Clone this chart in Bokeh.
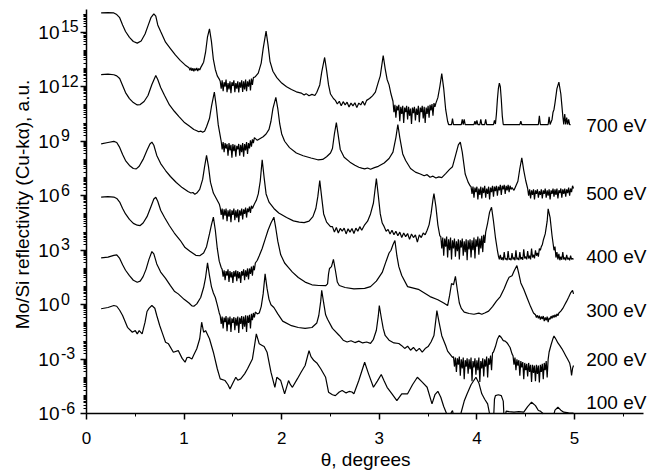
import math
from bokeh.plotting import figure
from bokeh.models import (FixedTicker, Range1d, Label, CustomJSTickFormatter)
from bokeh.embed import file_html
from bokeh.resources import INLINE

# ---- data: (theta in degrees, log10 of reflectivity in a.u.) ----
c700 = [
 (0.15,16.07),(0.22,16.08),(0.28,16.06),(0.31,15.97),(0.34,15.80),(0.37,15.40),
 (0.40,15.04),(0.44,14.72),(0.48,14.49),(0.52,14.40),(0.56,14.52),(0.60,14.90),
 (0.63,15.35),(0.66,15.80),(0.69,16.01),(0.71,15.88),(0.73,15.40),(0.76,15.04),
 (0.81,14.45),(0.86,14.10),(0.91,13.75),(0.96,13.45),(1.01,13.20),(1.05,13.05),
 (1.06,12.90),(1.07,13.05),(1.08,12.88),(1.09,13.02),(1.10,12.85),(1.11,13.00),
 (1.12,12.90),(1.13,13.03),(1.14,12.86),(1.15,13.00),(1.16,12.92),(1.17,13.05),
 (1.18,13.15),(1.20,13.35),(1.22,13.90),(1.24,14.75),(1.26,15.19),(1.28,14.50),
 (1.30,13.50),(1.32,12.95),(1.34,12.60),(1.36,12.42),
 (1.37,12.30),(1.38,11.90),(1.39,12.35),(1.40,11.75),(1.41,12.25),(1.42,12.00),
 (1.43,12.40),(1.44,11.70),(1.45,12.20),(1.46,11.85),(1.47,12.30),(1.48,11.65),
 (1.49,12.25),(1.50,12.05),(1.51,12.35),(1.52,11.70),(1.53,12.20),(1.54,11.90),
 (1.55,12.30),(1.56,11.68),(1.57,12.25),(1.58,11.95),(1.59,12.35),(1.60,11.72),
 (1.61,12.30),(1.62,11.85),(1.63,12.40),(1.64,11.75),(1.65,12.30),(1.66,12.00),
 (1.67,12.40),(1.68,11.80),(1.69,12.45),(1.70,12.10),(1.71,12.50),
 (1.73,12.55),(1.76,12.75),(1.79,13.30),(1.81,14.10),(1.84,15.06),(1.86,14.30),
 (1.88,13.40),(1.91,12.85),(1.95,12.50),(2.00,12.20),(2.05,12.00),(2.10,11.85),
 (2.15,11.72),(2.20,11.65),(2.23,11.55),(2.25,11.62),(2.28,11.50),(2.31,11.58),
 (2.34,11.52),(2.36,11.70),(2.39,12.10),(2.41,12.80),(2.44,13.61),(2.46,12.90),
 (2.48,12.10),(2.50,11.60),(2.53,11.35),
 (2.55,11.25),(2.57,11.05),(2.59,11.20),(2.61,10.95),(2.63,11.18),(2.65,11.00),
 (2.67,11.15),(2.69,10.88),(2.71,11.10),(2.73,10.95),(2.75,11.12),(2.77,10.85),
 (2.79,11.10),(2.81,11.00),(2.83,11.20),(2.85,10.98),(2.87,11.25),
 (2.90,11.35),(2.93,11.50),(2.96,11.70),(2.99,12.25),(3.01,12.60),(3.04,13.72),
 (3.06,13.00),(3.08,12.40),(3.10,12.10),(3.12,11.60),(3.14,11.20),
 (3.15,10.60),(3.16,11.00),(3.17,10.30),(3.18,10.95),(3.19,10.70),(3.20,11.00),
 (3.21,10.10),(3.22,10.90),(3.23,10.50),(3.24,10.95),(3.25,10.00),(3.26,10.85),
 (3.27,10.60),(3.28,10.95),(3.29,10.20),(3.30,10.90),(3.31,10.40),(3.32,10.80),
 (3.33,9.95),(3.34,10.85),(3.35,10.55),(3.36,10.90),(3.37,10.15),(3.38,10.80),
 (3.39,10.45),(3.40,10.95),(3.41,10.05),(3.42,10.85),(3.43,10.60),(3.44,10.95),
 (3.45,10.25),(3.46,10.90),(3.47,10.00),(3.48,10.85),(3.49,10.50),(3.50,10.95),
 (3.51,10.30),(3.52,11.00),(3.53,10.70),(3.54,11.05),(3.55,10.40),(3.56,11.10),
 (3.57,10.90),(3.58,11.10),(3.60,11.40),(3.62,12.00),(3.64,12.72),(3.66,11.90),
 (3.68,10.75),(3.70,10.10),(3.71,9.92),(3.74,9.92),(3.75,10.25),(3.76,9.92),
 (3.84,9.92),(3.85,10.20),(3.86,9.92),(3.87,10.20),(3.88,9.92),(3.97,9.92),
 (3.98,10.10),(3.99,9.92),(4.00,10.15),(4.01,9.92),(4.03,9.92),(4.04,10.20),
 (4.05,9.92),(4.08,9.92),(4.09,10.20),(4.10,9.92),(4.17,9.92),(4.18,10.15),
 (4.19,9.95),(4.20,10.50),(4.21,11.30),(4.22,11.90),(4.23,12.20),(4.24,12.00),
 (4.25,11.30),(4.26,10.40),(4.27,9.92),(4.44,9.92),(4.45,10.10),(4.46,9.92),
 (4.63,9.92),(4.64,10.40),(4.65,9.92),(4.73,9.92),(4.74,10.35),(4.75,9.92),
 (4.77,10.20),(4.78,10.60),(4.79,10.75),(4.80,11.10),(4.82,11.90),(4.84,12.25),
 (4.86,11.60),(4.87,11.00),(4.88,10.40),(4.89,9.92),(4.90,10.50),(4.91,9.92),
 (4.92,10.30),(4.93,9.92),(4.94,10.20),(4.95,9.92),(4.96,9.92)]

c500 = [
 (0.15,12.67),(0.22,12.69),(0.28,12.66),(0.31,12.60),(0.34,12.45),(0.37,12.07),
 (0.40,11.68),(0.44,11.35),(0.48,11.13),(0.52,11.00),(0.55,11.02),(0.59,11.19),
 (0.63,11.52),(0.67,12.12),(0.71,12.62),(0.73,12.40),(0.76,11.96),(0.80,11.52),
 (0.85,11.00),(0.90,10.65),(0.95,10.34),(1.00,10.05),(1.05,9.85),(1.10,9.65),
 (1.13,9.58),(1.15,9.52),(1.17,9.56),(1.19,9.50),(1.21,9.55),(1.23,9.80),
 (1.26,10.25),(1.28,10.90),(1.31,11.70),(1.33,10.90),(1.35,9.90),(1.37,9.30),
 (1.38,9.00),(1.39,8.55),(1.40,8.95),(1.41,8.40),(1.42,8.90),(1.43,8.60),
 (1.44,8.85),(1.45,8.20),(1.46,8.90),(1.47,8.50),(1.48,8.80),(1.49,8.10),
 (1.50,8.85),(1.51,8.45),(1.52,8.80),(1.53,8.15),(1.54,8.75),(1.55,8.55),
 (1.56,8.85),(1.57,8.20),(1.58,8.80),(1.59,8.40),(1.60,8.90),(1.61,8.15),
 (1.62,8.85),(1.63,8.50),(1.64,8.95),(1.65,8.30),(1.66,8.90),(1.67,8.60),
 (1.68,9.05),(1.69,8.70),(1.70,9.10),(1.71,8.90),(1.72,9.20),
 (1.75,9.05),(1.78,9.15),(1.81,9.25),(1.84,9.40),(1.87,9.65),(1.89,10.10),
 (1.91,10.80),(1.94,11.42),(1.96,10.80),(1.98,9.95),(2.00,9.40),(2.03,9.00),
 (2.08,8.65),(2.15,8.35),(2.22,8.20),(2.30,8.08),(2.37,7.98),(2.42,8.00),
 (2.46,8.15),(2.50,8.35),(2.52,8.60),(2.54,9.40),(2.56,10.03),(2.58,9.30),
 (2.60,8.55),(2.64,8.12),(2.70,7.85),(2.75,7.68),(2.79,7.57),(2.82,7.52),
 (2.85,7.48),(2.88,7.53),(2.91,7.46),(2.95,7.55),(2.99,7.62),(3.05,7.80),
 (3.10,8.05),(3.14,8.40),(3.17,9.20),(3.19,9.92),(3.21,9.20),(3.24,8.30),
 (3.27,7.94),(3.32,7.50),(3.37,7.30),(3.42,7.20),(3.46,7.10),(3.49,7.16),
 (3.52,7.02),(3.55,7.08),(3.58,6.98),(3.61,7.04),(3.64,7.00),(3.68,7.22),
 (3.72,7.45),(3.75,7.60),(3.78,8.20),(3.81,8.80),(3.83,8.95),(3.85,8.40),
 (3.88,7.20),(3.91,6.75),(3.93,6.55),
 (3.94,6.50),(3.95,6.10),(3.96,6.50),(3.97,5.90),(3.98,6.45),(3.99,6.20),
 (4.00,6.50),(4.01,5.80),(4.02,6.40),(4.03,6.05),(4.04,6.50),(4.05,5.85),
 (4.06,6.45),(4.07,6.15),(4.08,6.55),(4.09,5.90),(4.10,6.40),(4.11,6.10),
 (4.12,6.50),(4.13,5.80),(4.14,6.45),(4.15,6.20),(4.16,6.55),(4.17,5.95),
 (4.18,6.50),(4.19,6.25),(4.20,6.55),(4.21,6.00),(4.22,6.50),(4.23,6.30),
 (4.24,6.60),(4.25,6.05),(4.26,6.55),(4.27,6.35),(4.28,6.60),(4.29,6.10),
 (4.30,6.55),(4.31,6.30),(4.32,6.60),(4.33,6.20),(4.34,6.55),(4.35,6.35),
 (4.36,6.45),(4.38,6.30),(4.40,6.55),(4.42,6.80),(4.44,7.50),(4.46,8.09),
 (4.48,7.40),(4.50,6.84),(4.52,6.40),
 (4.53,6.00),(4.54,6.35),(4.55,5.85),(4.56,6.30),(4.57,6.05),(4.58,6.35),
 (4.59,5.80),(4.60,6.30),(4.61,6.10),(4.62,6.35),(4.63,5.90),(4.64,6.25),
 (4.65,6.05),(4.66,6.35),(4.67,5.85),(4.68,6.30),(4.69,6.10),(4.70,6.40),
 (4.71,5.90),(4.72,6.30),(4.73,6.00),(4.74,6.35),(4.75,5.80),(4.76,6.30),
 (4.77,6.10),(4.78,6.40),(4.79,5.95),(4.80,6.35),(4.81,6.05),(4.82,6.40),
 (4.83,5.85),(4.84,6.30),(4.85,6.15),(4.86,6.40),(4.87,5.90),(4.88,6.35),
 (4.89,6.10),(4.90,6.40),(4.91,5.95),(4.92,6.35),(4.93,6.15),(4.94,6.45),
 (4.95,6.00),(4.96,6.40),(4.97,6.20),(4.98,6.55),(4.99,6.40)]

c400 = [
 (0.15,8.86),(0.22,8.93),(0.28,8.99),(0.31,8.93),(0.34,8.66),(0.37,8.27),
 (0.40,7.94),(0.44,7.67),(0.48,7.50),(0.51,7.48),(0.54,7.62),(0.58,8.00),
 (0.62,8.50),(0.65,8.85),(0.67,8.95),(0.69,8.78),(0.72,8.22),(0.76,7.77),
 (0.81,7.39),(0.86,7.06),(0.92,6.73),(0.98,6.45),(1.04,6.23),(1.07,6.15),
 (1.09,6.18),(1.11,6.08),(1.13,6.15),(1.16,6.35),(1.19,6.90),(1.21,7.60),
 (1.23,8.22),(1.25,7.60),(1.27,6.75),(1.30,6.15),(1.33,5.85),(1.36,5.55),
 (1.37,5.35),(1.38,4.95),(1.39,5.30),(1.40,4.70),(1.41,5.25),(1.42,4.90),
 (1.43,5.30),(1.44,4.60),(1.45,5.20),(1.46,4.85),(1.47,5.25),(1.48,4.55),
 (1.49,5.20),(1.50,4.95),(1.51,5.30),(1.52,4.65),(1.53,5.20),(1.54,4.80),
 (1.55,5.25),(1.56,4.55),(1.57,5.20),(1.58,4.90),(1.59,5.30),(1.60,4.70),
 (1.61,5.25),(1.62,5.00),(1.63,5.35),(1.64,4.80),(1.65,5.30),(1.66,5.10),
 (1.67,5.40),(1.68,5.05),(1.69,5.45),(1.70,5.30),(1.72,5.55),(1.74,5.75),
 (1.76,6.10),(1.78,6.80),(1.80,7.98),(1.82,7.00),(1.84,6.10),(1.87,5.65),
 (1.92,5.30),(1.97,5.05),(2.05,4.80),(2.12,4.62),(2.18,4.55),(2.23,4.52),
 (2.28,4.60),(2.32,4.85),(2.35,5.30),(2.37,5.95),(2.39,6.84),(2.41,5.90),
 (2.43,5.00),(2.46,4.55),(2.50,4.30),
 (2.52,4.30),(2.54,4.00),(2.56,4.25),(2.58,3.95),(2.60,4.20),(2.62,4.05),
 (2.64,4.22),(2.66,3.90),(2.68,4.18),(2.70,4.00),(2.72,4.20),(2.74,3.92),
 (2.76,4.22),(2.78,4.05),(2.80,4.30),(2.82,4.10),(2.85,4.40),(2.88,4.60),
 (2.91,5.00),(2.94,5.60),(2.97,6.95),(2.99,6.00),(3.01,5.00),(3.03,4.50),
 (3.05,4.30),(3.07,4.05),(3.09,4.15),(3.11,3.90),(3.13,4.10),(3.15,3.85),
 (3.17,4.05),(3.19,3.80),(3.21,4.00),(3.23,3.70),(3.25,3.95),(3.27,3.75),
 (3.29,3.92),(3.31,3.60),(3.33,3.90),(3.35,3.70),(3.37,3.85),(3.39,3.45),
 (3.41,3.85),(3.43,3.70),(3.45,3.95),(3.47,3.85),(3.49,4.10),(3.51,4.40),
 (3.53,5.00),(3.55,5.80),(3.56,6.12),(3.58,5.40),(3.60,4.40),(3.62,3.80),
 (3.63,3.75),(3.64,3.10),(3.65,3.70),(3.66,2.70),(3.67,3.65),(3.68,3.20),
 (3.69,3.75),(3.70,2.60),(3.71,3.60),(3.72,3.00),(3.73,3.70),(3.74,2.50),
 (3.75,3.55),(3.76,3.10),(3.77,3.65),(3.78,2.65),(3.79,3.50),(3.80,2.95),
 (3.81,3.60),(3.82,2.50),(3.83,3.55),(3.84,3.15),(3.85,3.65),(3.86,2.70),
 (3.87,3.50),(3.88,2.90),(3.89,3.60),(3.90,2.45),(3.91,3.55),(3.92,3.05),
 (3.93,3.60),(3.94,2.60),(3.95,3.55),(3.96,3.00),(3.97,3.70),(3.98,2.55),
 (3.99,3.60),(4.00,3.20),(4.01,3.75),(4.02,2.75),(4.03,3.65),(4.04,3.10),
 (4.05,3.80),(4.06,2.90),(4.07,3.85),(4.08,3.40),(4.09,4.00),(4.11,4.50),
 (4.13,5.10),(4.15,5.37),(4.17,4.60),(4.19,3.70),(4.21,3.00),
 (4.22,2.70),(4.23,2.50),(4.24,2.75),(4.25,2.48),(4.26,2.60),(4.27,2.45),
 (4.28,2.90),(4.29,2.50),(4.30,2.55),(4.31,2.45),(4.32,2.95),(4.33,2.48),
 (4.34,2.55),(4.35,2.45),(4.36,2.85),(4.37,2.50),(4.38,2.60),(4.39,2.45),
 (4.40,3.00),(4.41,2.50),(4.42,2.58),(4.43,2.46),(4.44,2.90),(4.45,2.50),
 (4.46,2.62),(4.47,2.48),(4.48,3.05),(4.49,2.55),(4.50,2.65),(4.51,2.50),
 (4.52,2.95),(4.53,2.55),(4.54,2.70),(4.55,2.50),(4.56,3.10),(4.57,2.60),
 (4.58,2.75),(4.59,2.55),(4.60,3.00),(4.61,2.70),(4.62,2.85),(4.63,2.65),
 (4.64,3.10),(4.65,3.00),(4.66,3.20),(4.67,3.30),(4.68,3.55),(4.70,3.90),
 (4.72,4.60),(4.73,5.28),(4.75,4.80),(4.77,3.80),(4.79,3.00),(4.80,3.20),
 (4.81,2.60),(4.82,2.90),(4.83,2.50),(4.84,2.80),(4.85,2.45),(4.86,2.65),
 (4.87,2.48),(4.88,2.90),(4.89,2.50),(4.90,2.60),(4.91,2.45),(4.92,2.75),
 (4.93,2.50),(4.94,2.58),(4.95,2.45),(4.96,2.70),(4.97,2.50),(4.98,2.55),
 (4.99,2.50)]

c300 = [
 (0.15,5.92),(0.22,5.95),(0.28,5.93),(0.31,5.85),(0.34,5.65),(0.37,5.30),
 (0.40,5.00),(0.44,4.70),(0.48,4.48),(0.52,4.38),(0.55,4.36),(0.58,4.50),
 (0.62,4.85),(0.66,5.40),(0.69,5.82),(0.71,5.92),(0.73,5.70),(0.76,5.20),
 (0.80,4.80),(0.85,4.35),(0.90,3.95),(0.96,3.55),(1.01,3.15),(1.06,2.95),
 (1.12,2.72),(1.16,2.70),(1.20,2.85),(1.23,3.20),(1.26,3.90),(1.28,4.40),
 (1.30,4.82),(1.32,4.10),(1.34,3.10),(1.36,2.40),(1.38,2.05),
 (1.39,1.95),(1.40,1.55),(1.41,1.90),(1.42,1.35),(1.43,1.85),(1.44,1.60),
 (1.45,1.95),(1.46,1.25),(1.47,1.85),(1.48,1.50),(1.49,1.80),(1.50,1.20),
 (1.51,1.85),(1.52,1.55),(1.53,1.90),(1.54,1.30),(1.55,1.85),(1.56,1.45),
 (1.57,1.80),(1.58,1.20),(1.59,1.85),(1.60,1.60),(1.61,1.95),(1.62,1.35),
 (1.63,1.90),(1.64,1.55),(1.65,2.00),(1.66,1.40),(1.67,2.00),(1.68,1.70),
 (1.69,2.10),(1.70,1.60),(1.71,2.15),(1.72,1.90),(1.73,2.30),(1.75,2.45),
 (1.77,2.70),(1.80,3.10),(1.83,3.60),(1.86,4.10),(1.89,4.50),(1.92,4.82),
 (1.94,4.20),(1.96,3.50),(1.99,2.75),(2.03,2.30),(2.07,2.05),(2.11,1.80),
 (2.17,1.50),(2.24,1.25),(2.31,1.10),(2.38,1.06),(2.45,1.05),(2.47,1.15),
 (2.48,1.70),(2.49,2.00),(2.51,2.10),(2.53,2.50),(2.55,1.90),(2.57,1.25),
 (2.59,1.06),(2.65,0.95),(2.74,0.88),(2.85,0.90),(2.91,1.00),(2.97,1.30),
 (3.03,1.78),(3.07,2.40),(3.10,2.85),(3.12,3.00),(3.14,3.30),(3.16,3.54),
 (3.18,2.70),(3.20,2.10),(3.23,1.61),(3.29,1.00),(3.40,0.85),(3.52,0.45),
 (3.60,0.28),(3.66,0.10),(3.70,-0.04),(3.72,0.50),(3.74,1.17),(3.76,1.10),
 (3.78,1.56),(3.80,0.80),(3.82,0.10),(3.84,-0.20),(3.87,-0.40),(3.92,-0.48),
 (3.97,-0.52),(4.02,-0.46),(4.05,-0.52),(4.08,-0.45),(4.12,-0.35),(4.16,-0.10),
 (4.20,0.20),(4.24,0.45),(4.28,0.90),(4.31,1.30),(4.33,1.52),(4.36,1.60),
 (4.38,1.85),(4.41,2.16),(4.43,1.70),(4.45,1.20),(4.48,0.85),(4.52,0.30),
 (4.55,-0.10),(4.58,-0.45),
 (4.60,-0.55),(4.61,-0.70),(4.62,-0.58),(4.63,-0.75),(4.64,-0.60),(4.65,-0.82),
 (4.66,-0.65),(4.67,-0.78),(4.68,-0.62),(4.69,-0.90),(4.70,-0.70),(4.71,-0.85),
 (4.72,-0.65),(4.73,-0.95),(4.74,-0.72),(4.75,-0.80),(4.76,-0.62),(4.77,-0.75),
 (4.78,-0.58),(4.79,-0.70),(4.80,-0.55),(4.81,-0.68),(4.82,-0.50),(4.83,-0.60),
 (4.84,-0.45),(4.86,-0.35),(4.88,-0.20),(4.90,0.00),(4.92,0.20),(4.94,0.42),
 (4.96,0.65),(4.98,0.79),(4.99,0.60)]

c200 = [
 (0.15,2.58),(0.22,2.62),(0.28,2.72),(0.31,2.75),(0.34,2.55),(0.37,2.20),
 (0.40,1.90),(0.44,1.60),(0.48,1.35),(0.52,1.24),(0.55,1.30),(0.58,1.55),
 (0.61,1.95),(0.64,2.50),(0.67,2.93),(0.69,2.80),(0.72,2.25),(0.76,1.80),
 (0.81,1.45),(0.86,1.05),(0.90,0.75),(0.94,0.60),(1.00,0.30),(1.05,0.10),
 (1.08,-0.06),(1.10,-0.08),(1.13,0.05),(1.17,0.40),(1.20,0.95),(1.22,1.50),
 (1.24,2.31),(1.26,1.60),(1.28,1.00),(1.30,0.65),(1.32,0.40),(1.34,0.00),
 (1.36,-0.45),
 (1.37,-0.60),(1.38,-1.05),(1.39,-0.65),(1.40,-1.30),(1.41,-0.70),(1.42,-0.95),
 (1.43,-0.62),(1.44,-1.45),(1.45,-0.70),(1.46,-1.10),(1.47,-0.65),(1.48,-1.50),
 (1.49,-0.75),(1.50,-1.00),(1.51,-0.68),(1.52,-1.40),(1.53,-0.72),(1.54,-1.15),
 (1.55,-0.65),(1.56,-1.55),(1.57,-0.70),(1.58,-1.05),(1.59,-0.62),(1.60,-1.35),
 (1.61,-0.65),(1.62,-1.20),(1.63,-0.58),(1.64,-1.50),(1.65,-0.60),(1.66,-1.00),
 (1.67,-0.55),(1.68,-1.30),(1.69,-0.50),(1.70,-0.85),(1.71,-0.45),(1.72,-0.70),
 (1.73,-0.40),(1.75,-0.50),(1.77,-0.45),(1.79,-0.10),(1.81,0.60),(1.83,1.70),
 (1.85,0.90),(1.87,0.30),(1.89,0.00),(1.92,-0.15),(1.96,-0.50),(2.01,-0.90),
 (2.10,-1.15),(2.17,-1.25),(2.24,-1.30),(2.31,-1.25),(2.36,-1.00),(2.38,-0.59),
 (2.40,0.20),(2.41,0.80),(2.43,0.10),(2.45,-0.55),(2.47,-0.80),(2.52,-1.30),
 (2.59,-1.69),(2.63,-1.95),(2.67,-2.05),(2.71,-1.98),(2.75,-2.08),(2.79,-2.00),
 (2.83,-2.10),(2.87,-2.05),(2.91,-2.12),(2.94,-1.90),(2.97,-1.40),(2.99,-0.60),
 (3.00,-0.04),(3.02,-0.70),(3.04,-1.30),(3.06,-1.69),(3.10,-1.95),(3.15,-2.10),
 (3.20,-2.13),(3.23,-2.25),(3.26,-2.40),(3.29,-2.28),(3.32,-2.50),(3.35,-2.35),
 (3.38,-2.55),(3.41,-2.40),(3.44,-2.60),(3.47,-2.41),(3.50,-2.30),(3.53,-2.05),
 (3.56,-1.69),(3.58,-0.80),(3.59,-0.32),(3.61,-0.90),(3.64,-1.70),(3.68,-2.24),
 (3.70,-2.55),(3.75,-2.90),
 (3.76,-2.85),(3.77,-3.40),(3.78,-2.90),(3.79,-3.70),(3.80,-2.95),(3.81,-3.30),
 (3.82,-2.85),(3.83,-3.90),(3.84,-3.00),(3.85,-3.50),(3.86,-2.90),(3.87,-4.10),
 (3.88,-3.05),(3.89,-3.40),(3.90,-2.95),(3.91,-3.80),(3.92,-3.00),(3.93,-3.55),
 (3.94,-2.90),(3.95,-4.20),(3.96,-3.10),(3.97,-3.45),(3.98,-2.95),(3.99,-3.85),
 (4.00,-3.05),(4.01,-3.60),(4.02,-2.90),(4.03,-4.25),(4.04,-3.10),(4.05,-3.50),
 (4.06,-2.95),(4.07,-3.95),(4.08,-3.00),(4.09,-3.40),(4.10,-2.85),(4.11,-4.00),
 (4.12,-2.95),(4.13,-3.30),(4.14,-2.80),(4.15,-3.60),(4.16,-2.65),(4.17,-2.60),
 (4.19,-2.30),(4.21,-1.90),(4.23,-1.69),(4.25,-1.80),(4.27,-1.97),(4.29,-2.00),
 (4.31,-2.10),(4.34,-2.35),(4.36,-2.70),
 (4.37,-2.80),(4.38,-3.30),(4.39,-2.90),(4.40,-3.60),(4.41,-3.00),(4.42,-3.35),
 (4.43,-3.05),(4.44,-3.90),(4.45,-3.10),(4.46,-3.45),(4.47,-3.15),(4.48,-4.10),
 (4.49,-3.20),(4.50,-3.60),(4.51,-3.25),(4.52,-3.95),(4.53,-3.20),(4.54,-3.70),
 (4.55,-3.30),(4.56,-4.25),(4.57,-3.30),(4.58,-3.75),(4.59,-3.35),(4.60,-4.20),
 (4.61,-3.30),(4.62,-3.80),(4.63,-3.35),(4.64,-4.28),(4.65,-3.30),(4.66,-3.70),
 (4.67,-3.25),(4.68,-4.10),(4.69,-3.20),(4.70,-3.60),(4.71,-3.10),(4.72,-4.00),
 (4.73,-3.00),(4.74,-2.60),(4.76,-2.20),(4.78,-1.85),(4.79,-1.72),(4.81,-1.90),
 (4.83,-2.10),(4.85,-2.25),(4.87,-2.41),(4.89,-2.60),(4.91,-2.80),(4.93,-3.00),
 (4.95,-3.20),(4.96,-3.45),(4.97,-3.89),(4.98,-3.50),(4.99,-3.34)]

c100 = [
 (0.15,-0.22),(0.22,-0.15),(0.28,-0.04),(0.31,-0.08),(0.34,-0.30),(0.37,-0.59),
 (0.42,-1.24),(0.47,-1.51),(0.50,-1.42),(0.52,-1.60),(0.54,-1.42),(0.57,-1.60),
 (0.60,-0.96),(0.62,-0.37),(0.64,-0.20),(0.67,-0.04),(0.70,-0.19),(0.72,-0.59),
 (0.75,-1.14),(0.78,-1.60),(0.81,-2.06),(0.84,-2.15),(0.89,-2.61),(0.94,-2.52),
 (0.98,-2.95),(1.01,-3.16),(1.03,-2.90),(1.05,-2.89),(1.08,-2.98),(1.10,-2.75),
 (1.13,-2.42),(1.16,-1.87),(1.18,-0.96),(1.20,-1.51),(1.22,-1.42),(1.26,-1.87),
 (1.30,-2.61),(1.34,-3.52),(1.37,-4.08),(1.42,-4.17),(1.45,-4.40),(1.47,-4.63),
 (1.50,-4.30),(1.53,-3.99),(1.55,-4.15),(1.58,-4.08),(1.62,-3.80),(1.65,-3.52),
 (1.70,-2.98),(1.72,-2.30),(1.74,-1.60),(1.77,-2.15),(1.80,-2.24),(1.82,-2.30),
 (1.85,-2.61),(1.89,-3.71),(1.93,-4.54),(1.95,-3.99),(1.99,-4.17),(2.03,-4.90),
 (2.07,-4.17),(2.09,-4.40),(2.11,-4.54),(2.16,-4.08),(2.20,-3.70),(2.24,-3.34),
 (2.28,-2.52),(2.30,-2.85),(2.33,-3.07),(2.36,-3.20),(2.40,-3.52),(2.45,-3.99),
 (2.48,-4.81),(2.52,-4.95),(2.55,-5.00),(2.59,-4.80),(2.62,-4.72),(2.66,-4.85),
 (2.69,-4.77),(2.72,-4.80),(2.74,-4.90),(2.79,-4.17),(2.85,-3.16),(2.89,-3.80),
 (2.94,-4.54),(2.98,-4.20),(3.02,-3.84),(3.05,-4.20),(3.08,-4.54),(3.13,-4.90),
 (3.18,-5.27),(3.23,-4.90),(3.29,-4.90),(3.34,-4.40),(3.39,-3.99),(3.44,-4.26),
 (3.49,-4.54),(3.54,-5.45),(3.57,-4.95),(3.60,-4.76),(3.63,-5.09),(3.66,-5.60),
 (3.69,-6.00),(3.71,-6.30),(3.74,-5.90),(3.75,-5.82),(3.77,-6.30),(3.82,-6.30),
 (3.84,-5.90),(3.87,-5.30),(3.90,-4.90),(3.94,-4.40),(3.99,-3.99),(4.02,-4.30),
 (4.05,-4.90),(4.08,-5.20),(4.11,-5.45),(4.13,-6.00),(4.14,-6.40),(4.17,-6.40),
 (4.18,-5.20),(4.19,-5.00),(4.22,-4.95),(4.25,-5.00),(4.27,-5.30),(4.28,-6.40),
 (4.30,-5.85),(4.33,-5.88),(4.38,-5.91),(4.43,-5.88),(4.48,-5.91),(4.52,-5.60),
 (4.56,-5.36),(4.60,-5.55),(4.63,-5.82),(4.65,-5.85),(4.69,-6.05),(4.72,-6.20),
 (4.78,-6.20),(4.80,-5.80),(4.83,-5.64),(4.86,-5.80),(4.89,-5.91),(4.94,-5.95),
 (4.99,-5.96)]

curves = [c700, c500, c400, c300, c200, c100]

energy_labels = ["700 eV", "500 eV", "400 eV", "300 eV", "200 eV", "100 eV"]
label_theta = [5.12, 5.12, 5.12, 5.12, 5.12, 5.12]
label_log = [9.87, 6.12, 2.67, -0.31, -3.01, -5.36]

x_major = [0, 1, 2, 3, 4, 5]
x_minor = [0.5, 1.5, 2.5, 3.5, 4.5, 5.5]
y_major_exp = [-6, -3, 0, 3, 6, 9, 12, 15]

# axis extents (data units) and the visible window around them
X_AXIS = (0.0, 5.707)
Y_AXIS_EXP = (-6.0, 16.23)
X_VIEW = (-0.8811, 5.7582)
Y_VIEW_EXP = (-9.12, 16.746)

# annotation anchors (data units)
TICKLBL_BASE_X = -0.277
TICKLBL_EXP_X = -0.262
Y_TITLE_X = -0.656
Y_TITLE_EXP = 5.52
X_TITLE_X = 2.86
X_TITLE_EXP = -8.52

FONT = "Liberation Sans"


def clip_below(points, floor):
    """Cut a curve where it drops under the lower axis."""
    xs, ys = [], []
    for i, (t, l) in enumerate(points):
        if i > 0:
            t0, l0 = points[i - 1]
            if (l0 < floor) != (l < floor):
                tc = t0 + (floor - l0) * (t - t0) / (l - l0)
                xs.append(tc)
                ys.append(10 ** floor)
        xs.append(t)
        ys.append(10 ** l if l >= floor else float("nan"))
    return xs, ys


p = figure(width=648, height=470,
           x_range=Range1d(*X_VIEW),
           y_range=Range1d(10 ** Y_VIEW_EXP[0], 10 ** Y_VIEW_EXP[1]),
           y_axis_type="log", output_backend="svg", toolbar_location=None,
           min_border_left=0, min_border_right=0, min_border_top=0,
           min_border_bottom=0)
p.outline_line_color = None
p.xgrid.visible = False
p.ygrid.visible = False
p.background_fill_color = "white"
p.border_fill_color = "white"

for c in curves:
    xs, ys = clip_below(c, Y_AXIS_EXP[0])
    p.line(xs, ys, line_color="black", line_width=1.2)

for t, xx, lg in zip(energy_labels, label_theta, label_log):
    p.add_layout(Label(x=xx, y=10 ** lg, text=t, text_align="left",
                       text_baseline="middle", text_font=FONT,
                       text_font_size="19px", text_color="black"))

y_top = 10 ** Y_AXIS_EXP[1]
y_minor = [m * 10.0 ** k for k in range(-6, 17) for m in range(1, 10)
           if not (m == 1 and k in y_major_exp) and m * 10.0 ** k <= y_top]

yax = p.yaxis[0]
xax = p.xaxis[0]
yax.ticker = FixedTicker(ticks=[10.0 ** e for e in y_major_exp],
                         minor_ticks=y_minor)
yax.formatter = CustomJSTickFormatter(code="return '';")
yax.fixed_location = X_AXIS[0]
yax.bounds = (10 ** Y_AXIS_EXP[0], y_top)
xax.ticker = FixedTicker(ticks=x_major, minor_ticks=x_minor)
xax.fixed_location = 10 ** Y_AXIS_EXP[0]
xax.bounds = X_AXIS

for ax in (xax, yax):
    ax.axis_line_width = 1.5
    ax.axis_line_color = "black"
    ax.major_tick_line_color = "black"
    ax.minor_tick_line_color = "black"
    ax.major_tick_line_width = 1.5
    ax.minor_tick_line_width = 1
    ax.major_tick_in = 0
    ax.minor_tick_in = 0
    ax.major_tick_out = 6
    ax.minor_tick_out = 3
    ax.major_label_text_font = FONT
    ax.major_label_text_color = "black"

xax.major_label_text_font_size = "17px"
xax.major_label_standoff = 12

# y tick labels: base "10" with raised exponent
for e in y_major_exp:
    p.add_layout(Label(x=TICKLBL_BASE_X, y=10.0 ** e,
                       text="10", text_align="right", text_baseline="middle",
                       text_font=FONT, text_font_size="19px",
                       text_color="black"))
    p.add_layout(Label(x=TICKLBL_EXP_X, y=10.0 ** e,
                       text=str(e), text_align="left", text_baseline="middle",
                       y_offset=6, text_font=FONT, text_font_size="16px",
                       text_color="black"))

p.add_layout(Label(x=Y_TITLE_X, y=10 ** Y_TITLE_EXP,
                   text="Mo/Si reflectivity (Cu-kα), a.u.", angle=math.pi / 2,
                   text_align="center", text_baseline="middle",
                   text_font=FONT, text_font_size="19px", text_color="black"))
p.add_layout(Label(x=X_TITLE_X, y=10 ** X_TITLE_EXP, text="θ, degrees",
                   text_align="center", text_baseline="middle",
                   text_font=FONT, text_font_size="19px", text_color="black"))

open("out.html", "w").write(file_html(p, INLINE))
